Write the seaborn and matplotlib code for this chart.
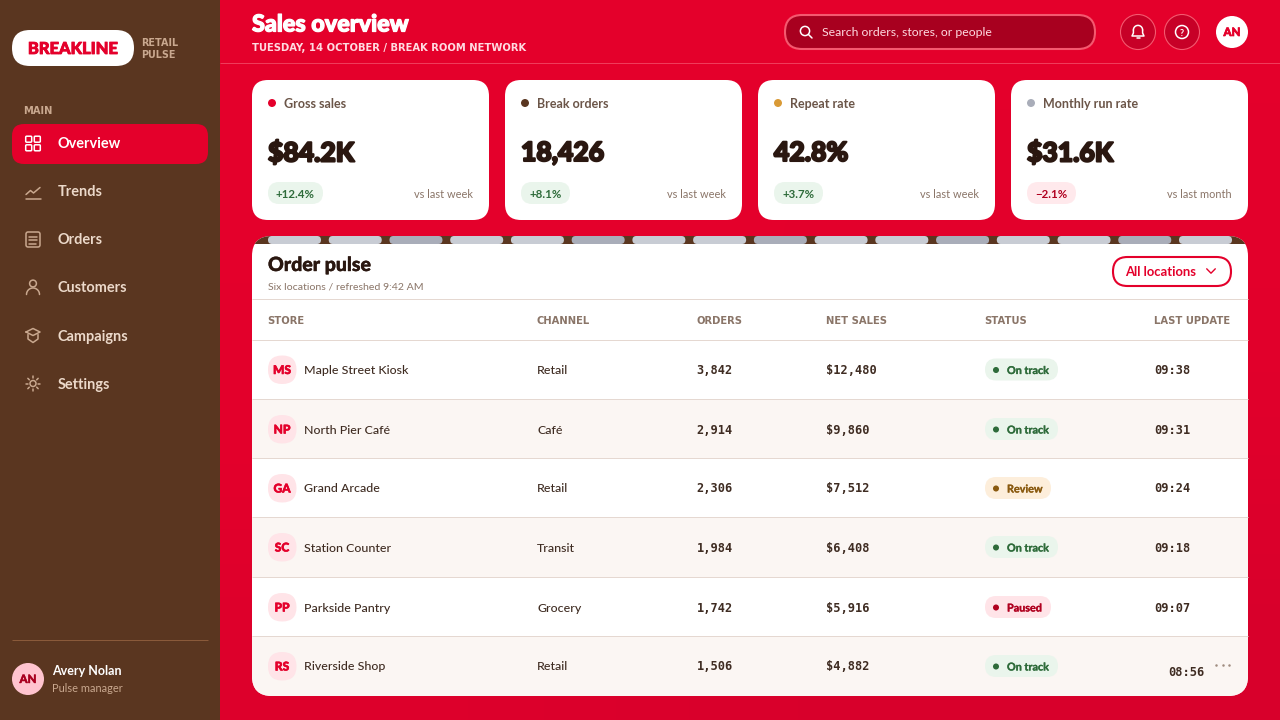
# plot.py
# Sales overview dashboard, drawn on one full-figure axes in pixel units

import numpy as np
import pandas as pd
import matplotlib
matplotlib.use('Agg')
import matplotlib.pyplot as plt
import matplotlib.patheffects as pe
from matplotlib.patches import FancyBboxPatch, Circle, Rectangle
import seaborn as sns

# DATA
nav_items = ['Overview', 'Trends', 'Orders', 'Customers', 'Campaigns', 'Settings']
kpi_labels = ['Gross sales', 'Break orders', 'Repeat rate', 'Monthly run rate']
kpi_values = ['$84.2K', '18,426', '42.8%', '$31.6K']
kpi_deltas = ['+12.4%', '+8.1%', '+3.7%', '\u22122.1%']
kpi_compare = ['vs last week', 'vs last week', 'vs last week', 'vs last month']
kpi_colors = ['#e4002b', '#5a3620', '#d99a36', '#a9adb9']

stores = ['Maple Street Kiosk', 'North Pier Café', 'Grand Arcade', 'Station Counter',
          'Parkside Pantry', 'Riverside Shop']
initials = ['MS', 'NP', 'GA', 'SC', 'PP', 'RS']
channels = ['Retail', 'Café', 'Retail', 'Transit', 'Grocery', 'Retail']
orders = [3842, 2914, 2306, 1984, 1742, 1506]
net_sales = [12480, 9860, 7512, 6408, 5916, 4882]
statuses = ['On track', 'On track', 'Review', 'On track', 'Paused', 'On track']
updates = ['09:38', '09:31', '09:24', '09:18', '09:07', '08:56']
headers = ['STORE', 'CHANNEL', 'ORDERS', 'NET SALES', 'STATUS', 'LAST UPDATE']

RED = '#e4002b'
BROWN = '#5a3620'
DARK = '#2a1710'
TAN = '#c9a88f'
MUTED = '#8a7568'
LINE = '#e5d8d1'
CAPS = 'DejaVu Sans'
MONO = 'DejaVu Sans Mono'
status_fill = {'On track': '#eaf5ec', 'Review': '#fdeedb', 'Paused': '#ffe4e8'}
status_ink = {'On track': '#2e6b3a', 'Review': '#8a5a10', 'Paused': '#b0001f'}
status_width = {'On track': 73, 'Review': 66, 'Paused': 66}

sns.set_theme(style='white')
plt.rcParams['font.family'] = ['Lato', 'DejaVu Sans']
plt.rcParams['axes.unicode_minus'] = False

fig = plt.figure(figsize=(12.8, 7.2), dpi=100)
ax = fig.add_axes([0, 0, 1, 1])
ax.set_xlim(0, 1280)
ax.set_ylim(720, 0)
ax.axis('off')


def px(size):
    # css pixels to points
    return size * 0.72


def label(x, y, s, size, color, weight='normal', ha='left', family=None, chunky=0, z=6):
    t = ax.text(x, y, s, fontsize=px(size), color=color, fontweight=weight, ha=ha,
                va='center_baseline', zorder=z, family=family)
    if chunky:
        t.set_path_effects([pe.withStroke(linewidth=chunky, foreground=color)])
    return t


def box(x0, y0, x1, y1, r, fc, ec='none', lw=0, z=2):
    p = FancyBboxPatch((x0 + r, y0 + r), x1 - x0 - 2 * r, y1 - y0 - 2 * r,
                       boxstyle=f'round,pad={r},rounding_size={r}', fc=fc, ec=ec, lw=lw, zorder=z)
    ax.add_patch(p)
    return p


def rect(x0, y0, x1, y1, fc, z=1):
    p = Rectangle((x0, y0), x1 - x0, y1 - y0, fc=fc, ec='none', lw=0, zorder=z)
    ax.add_patch(p)
    return p


def stroke(xs, ys, color, lw=1.1, z=7, cap='round'):
    ax.plot(xs, ys, color=color, lw=lw, solid_capstyle=cap, solid_joinstyle='round', zorder=z)


def ring(cx, cy, r, color, lw=1.1, fc='none', z=7):
    ax.add_patch(Circle((cx, cy), r, fc=fc, ec=color, lw=lw, zorder=z))


def arc(cx, cy, r, a0, a1, color, lw=1.1):
    t = np.radians(np.linspace(a0, a1, 30))
    stroke(cx + r * np.cos(t), cy + r * np.sin(t), color, lw)


def nav_icon(name, cx, cy, c):
    if name == 'Overview':
        for dx in (-4.3, 4.3):
            for dy in (-4.3, 4.3):
                box(cx + dx - 3, cy + dy - 3, cx + dx + 3, cy + dy + 3, 1, 'none', c, 1.1, z=7)
    elif name == 'Trends':
        stroke([cx - 7.5, cx + 7.5], [cy + 7, cy + 7], c)
        stroke([cx - 7, cx - 2.5, cx + 0.5, cx + 7], [cy + 3, cy - 1, cy + 1.5, cy - 4], c)
    elif name == 'Orders':
        box(cx - 7, cy - 7.5, cx + 7, cy + 7.5, 2, 'none', c, 1.1, z=7)
        for dy, w in ((-3, 4), (0.5, 4), (4, 2.5)):
            stroke([cx - 4, cx + w], [cy + dy, cy + dy], c)
    elif name == 'Customers':
        ring(cx, cy - 4, 3.4, c)
        arc(cx, cy + 7, 6.5, 180, 360, c)
    elif name == 'Campaigns':
        stroke([cx - 7, cx, cx + 7, cx, cx - 7], [cy - 3.5, cy - 7, cy - 3.5, cy, cy - 3.5], c)
        stroke([cx - 5, cx - 5, cx, cx + 5, cx + 5], [cy - 1, cy + 3.5, cy + 7, cy + 3.5, cy - 1], c)
    else:
        ring(cx, cy, 3, c)
        for a in np.radians(np.arange(0, 360, 45)):
            stroke([cx + 5.2 * np.cos(a), cx + 7.3 * np.cos(a)],
                   [cy + 5.2 * np.sin(a), cy + 7.3 * np.sin(a)], c)


# background darkens slightly towards the bottom
bg = np.array([[0.0, 0.0, 0.0], [0.0, 0.0, 0.05], [0.05, 0.2, 0.4], [0.5, 0.9, 1.0]])
grad_cmap = matplotlib.colors.LinearSegmentedColormap.from_list('bg', [RED, '#d8002b'])
ax.imshow(bg, extent=(220, 1280, 720, 0), cmap=grad_cmap, aspect='auto', zorder=0,
          interpolation='bilinear')
ax.set_xlim(0, 1280)
ax.set_ylim(720, 0)

# sidebar
rect(0, 0, 220, 720, BROWN, z=1)
box(12, 30, 134, 66, 18, 'white')
label(73, 47.5, 'BREAKLINE', 16.5, RED, weight='black', ha='center', chunky=0.6)
label(141.5, 41.5, 'RETAIL', 9.7, TAN, weight='bold', family=CAPS)
label(141.5, 53.5, 'PULSE', 9.7, TAN, weight='bold', family=CAPS)
label(23.5, 109.5, 'MAIN', 9.9, TAN, weight='bold', family=CAPS)
box(12, 124, 208, 164, 12, RED)
for i, name in enumerate(nav_items):
    y = 143 + 48 * i
    active = name == 'Overview'
    nav_icon(name, 33, y + 0.5, 'white' if active else TAN)
    label(58, y, name, 14.5, 'white' if active else '#ecd9ca', weight='bold')
stroke([12, 208], [640, 640], '#8a5a3a', lw=0.72, z=2, cap='butt')
ring(28, 679, 16, '#ffc4cf', lw=0, fc='#ffc4cf', z=2)
label(28, 678.5, 'AN', 11.5, '#a8001f', weight='black', ha='center', chunky=0.3)
label(52, 670, 'Avery Nolan', 12.5, 'white', weight='bold')
label(52, 688, 'Pulse manager', 11, TAN)

# header
label(252, 23, 'Sales overview', 23.4, 'white', weight='black', chunky=0.9)
label(252, 47, 'TUESDAY, 14 OCTOBER / BREAK ROOM NETWORK', 9.95, '#ffdbe1', weight='bold', family=CAPS)
stroke([220, 1280], [63, 63], '#ef3c5b', lw=0.72, z=1, cap='butt')
box(785, 15, 1095, 49, 17, '#a8001f', '#f4596f', 1.5)
ring(805, 31, 4.6, 'white', lw=1.1)
stroke([808.5, 812], [34.5, 38], 'white')
label(822, 31, 'Search orders, stores, or people', 12.2, '#ffdbe1')
for cx in (1138, 1182):
    ring(cx, 32, 17.5, '#f4596f', lw=0.8, fc='#c70027', z=2)
arc(1138, 30, 4.6, 180, 360, 'white')
stroke([1133.4, 1133.4, 1132, 1144, 1142.6, 1142.6], [30, 33, 36, 36, 33, 30], 'white')
stroke([1136.5, 1139.5], [38, 38], 'white')
ring(1182, 32, 6.5, 'white')
label(1182, 32.3, '?', 9, 'white', weight='bold', ha='center')
ring(1232, 32, 16, 'white', lw=0, fc='white', z=2)
label(1232, 31.5, 'AN', 11.5, RED, weight='black', ha='center', chunky=0.5)

# KPI cards
kpi = pd.DataFrame({'label': kpi_labels, 'value': kpi_values, 'delta': kpi_deltas,
                    'compare': kpi_compare, 'color': kpi_colors})
kpi['x'] = 252 + 253 * kpi.index
kpi['dot_x'] = kpi['x'] + 20
kpi['dot_y'] = 103
badge_w = [55, 49, 49, 49]
for i, row in kpi.iterrows():
    x = row['x']
    box(x, 80, x + 237, 220, 16, 'white')
    label(x + 32, 103, row['label'], 12.5, '#6b5548', weight='bold')
    label(x + 16, 151, row['value'], 26.5, DARK, weight='black', chunky=1.5)
    neg = row['delta'].startswith('\u2212')
    box(x + 16, 182, x + 16 + badge_w[i], 204, 11, '#ffe9ec' if neg else '#eaf5ec')
    label(x + 16 + badge_w[i] / 2, 193, row['delta'], 11.5, '#b0001f' if neg else '#2e6b3a',
          weight='bold', ha='center')
    label(x + 221, 193, row['compare'], 11, MUTED, ha='right')
sns.scatterplot(data=kpi, x='dot_x', y='dot_y', hue='label', palette=kpi_colors, s=33,
                linewidth=0, legend=False, ax=ax, zorder=5)

# table card
card = box(252, 236, 1248, 696, 20, 'white')
top = rect(252, 236, 1248, 244, BROWN, z=3)
top.set_clip_path(card)
pill_x = np.linspace(268, 1179, 16)
for i, x in enumerate(pill_x):
    box(x, 236, x + 53, 244, 4, '#a9adb9' if i % 3 == 2 else '#c8ccd4', z=4)

label(268, 264, 'Order pulse', 19.5, DARK, weight='black', chunky=0.3)
label(268, 285.5, 'Six locations / refreshed 9:42 AM', 10.5, MUTED)
box(1113, 257, 1231, 286, 14.5, 'white', RED, 1.5, z=3)
label(1125.5, 271, 'All locations', 13, RED, weight='bold')
stroke([1206.7, 1211, 1215.3], [268.8, 273.2, 268.8], RED, lw=1.0)

col_x = [267.5, 536.5, 696.5, 825.5, 984.5, 1154.5]
for x, h in zip(col_x, headers):
    label(x, 319.5, h, 9.95, MUTED, weight='bold', family=CAPS)

row_edges = [340.5, 399.5, 458.5, 517.5, 577, 636, 696]
row_lines = [299, 340, 399, 458, 517, 577, 636]
row_y = [369.5, 429, 488, 547, 607, 666]
for i in range(6):
    if i % 2 == 1:
        band = rect(252, row_edges[i], 1248, row_edges[i + 1], '#fbf6f3', z=3)
        band.set_clip_path(card)
for y in row_lines:
    stroke([252, 1247.5], [y, y], LINE, lw=0.72, z=4, cap='butt')

table = pd.DataFrame({'store': stores, 'initials': initials, 'channel': channels,
                      'orders': orders, 'net_sales': net_sales, 'status': statuses,
                      'update': updates, 'y': row_y})
table['dot_x'] = 996
table['dot_y'] = table['y'] + 0.5
for i, row in table.iterrows():
    y = row['y']
    box(268, y - 14, 296.5, y + 14.5, 14, '#ffe4e8', z=5)
    label(282, y, row['initials'], 12, RED, weight='black', ha='center', chunky=0.4)
    label(304, y, row['store'], 12.4, '#3f2c22', weight='medium')
    label(537, y, row['channel'], 12.4, '#3f2c22', weight='medium')
    label(696.5, y - 0.5, f"{row['orders']:,}", 12, '#3f2c22', weight='bold', family=MONO)
    label(826, y - 0.5, f"${row['net_sales']:,}", 12, '#3f2c22', weight='bold', family=MONO)
    s = row['status']
    box(985, y - 11, 985 + status_width[s], y + 11, 11, status_fill[s], z=5)
    label(1007, y, s, 10.8, status_ink[s], weight='bold', chunky=0.2)
    if i < 5:
        label(1154.5, y - 0.5, row['update'], 12, '#3f2c22', weight='bold', family=MONO)
    else:
        label(1168.5, y + 4.5, row['update'], 12, '#3f2c22', weight='bold', family=MONO)

sns.scatterplot(data=table, x='dot_x', y='dot_y', hue='status', palette=status_ink, s=19,
                linewidth=0, legend=False, ax=ax, zorder=7)
ax.plot([1216, 1222.5, 1229], [665, 665, 665], ls='none', marker='o', ms=1.8, color='#a08c80',
        mew=0, zorder=7)

ax.set_xlim(0, 1280)
ax.set_ylim(720, 0)
ax.axis('off')
fig.savefig('out.png', dpi=100)
